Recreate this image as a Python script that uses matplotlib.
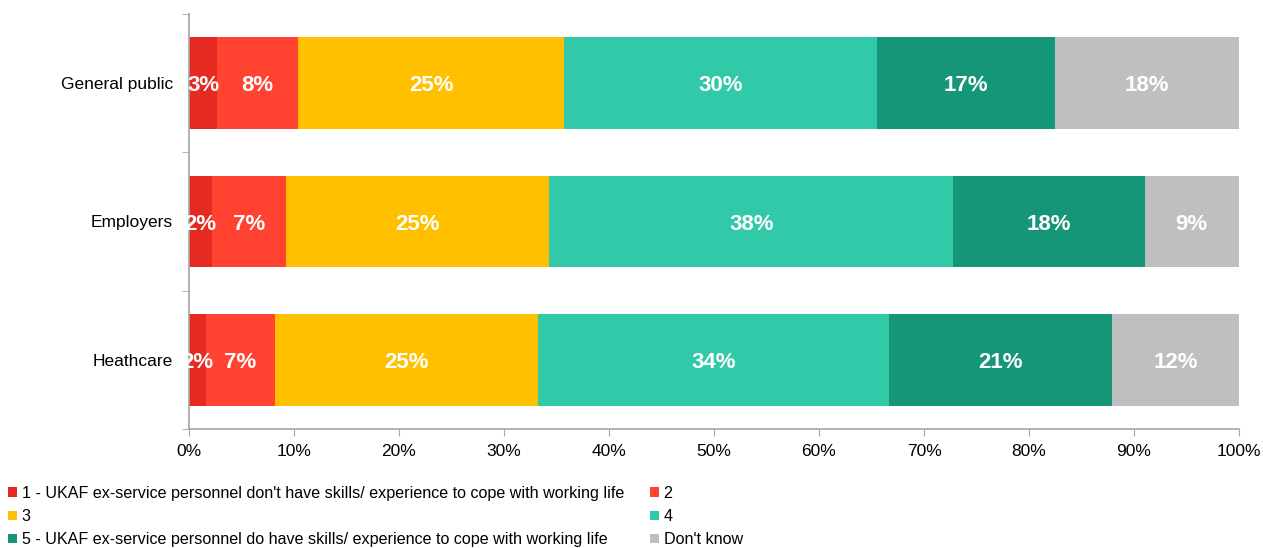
import numpy as np
import matplotlib
matplotlib.use("Agg")
import matplotlib.pyplot as plt
from matplotlib.patches import Patch

plt.rcParams["font.family"] = ["Liberation Sans", "DejaVu Sans"]

groups = ["General public", "Employers", "Heathcare"]
series = [
    "1 - UKAF ex-service personnel don't have skills/ experience to cope with working life",
    "2",
    "3",
    "4",
    "5 - UKAF ex-service personnel do have skills/ experience to cope with working life",
    "Don't know",
]
# percent shares per group, one list per series
s1 = [2.7, 2.2, 1.6]
s2 = [7.7, 7.0, 6.6]
s3 = [25.3, 25.1, 25.0]
s4 = [29.8, 38.5, 33.5]
s5 = [17.0, 18.2, 21.2]
dk = [17.5, 9.0, 12.1]
values = [s1, s2, s3, s4, s5, dk]
colors = ["#E52A22", "#FF4330", "#FFC000", "#31C9A7", "#169679", "#BFBFBF"]

fig = plt.figure(figsize=(12.63, 5.48), dpi=100)
ax = fig.add_axes([189 / 1263, 1 - 429 / 548, 1050 / 1263, 415 / 548])

y = np.arange(len(groups))
left = np.zeros(len(groups))
for vals, col in zip(values, colors):
    vals = np.array(vals)
    ax.barh(y, vals, left=left, height=0.665, color=col, edgecolor="none")
    for yi, l, v in zip(y, left, vals):
        ax.text(l + v / 2, yi + 0.02, f"{v:.0f}%", ha="center", va="center",
                color="white", fontsize=16, fontweight="bold")
    left += vals

ax.set_xlim(0, 100)
ax.set_ylim(len(groups) - 0.5, -0.5)
ax.set_xticks(np.arange(0, 101, 10))
ax.set_xticklabels([f"{t}%" for t in range(0, 101, 10)], fontsize=12.5)
ax.set_yticks(y)
ax.set_yticklabels(groups, fontsize=12.5)
ax.tick_params(axis="y", length=0, pad=11.5)
ax.tick_params(axis="x", length=5, color="#A6A6A6", pad=6)
# category separator ticks on the y axis
ax.set_yticks(np.arange(-0.5, len(groups), 1), minor=True)
ax.tick_params(axis="y", which="minor", length=5, color="#A6A6A6")
for side in ["top", "right"]:
    ax.spines[side].set_visible(False)
for side in ["left", "bottom"]:
    ax.spines[side].set_color("#A6A6A6")
    ax.spines[side].set_linewidth(1.2)

handles = [Patch(facecolor=c, edgecolor="none") for c in colors]
leg_kw = dict(frameon=False, fontsize=11.6, handlelength=0.55, handleheight=0.55,
              handletextpad=0.3, labelspacing=0.5, borderpad=0, borderaxespad=0)
leg1 = fig.legend([handles[0], handles[2], handles[4]],
                  [series[0], series[2], series[4]],
                  loc="upper left", bbox_to_anchor=(8 / 1263, 1 - 486 / 548), **leg_kw)
leg2 = fig.legend([handles[1], handles[3], handles[5]],
                  [series[1], series[3], series[5]],
                  loc="upper left", bbox_to_anchor=(650 / 1263, 1 - 486 / 548), **leg_kw)

fig.savefig("out.png", dpi=100)
